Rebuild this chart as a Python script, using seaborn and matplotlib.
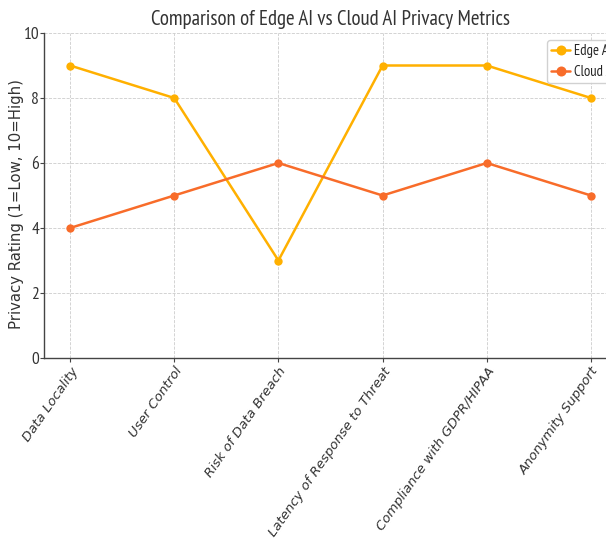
import matplotlib
matplotlib.use("Agg")
import matplotlib.pyplot as plt
import seaborn as sns
import pandas as pd

categories = ["Data Locality", "User Control", "Risk of Data Breach",
              "Latency of Response to Threat", "Compliance with GDPR/HIPAA",
              "Anonymity Support"]
edge_ai = [9, 8, 3, 9, 9, 8]
cloud_ai = [4, 5, 6, 5, 6, 5]
series_names = ["Edge AI", "Cloud AI"]
y_ticks = [0, 2, 4, 6, 8, 10]

sns.set_theme(style="whitegrid")
plt.rcParams["font.family"] = ["DejaVu Sans"]

df = pd.DataFrame({
    "Metric": categories * 2,
    "Rating": edge_ai + cloud_ai,
    "System": [series_names[0]] * len(categories) + [series_names[1]] * len(categories),
})

fig = plt.figure(figsize=(6.06, 5.41), dpi=100)
ax = fig.add_axes([44 / 606, 1 - 358 / 541, 573 / 606, 325 / 541])

palette = {"Edge AI": "#FFB000", "Cloud AI": "#F86C2A"}
sns.lineplot(data=df, x="Metric", y="Rating", hue="System", palette=palette,
             marker="o", markersize=6, markeredgewidth=0, linewidth=1.8,
             sort=False, ax=ax)

ax.set_xlim(-0.25, 5.25)
ax.set_ylim(0, 10)
ax.set_yticks(y_ticks)
ax.set_yticklabels([str(v) for v in y_ticks], family=["PT Sans Narrow", "DejaVu Sans"],
                   fontsize=12.5, color="#333333")
ax.set_xticks(range(len(categories)))
ax.set_xticklabels(categories, rotation=55, ha="right", rotation_mode="anchor",
                   fontsize=9.5, family=["DejaVu Sans"], style="oblique", color="#333333")
ax.tick_params(axis="y", which="both", length=3, width=0.8, color="#444444", left=True, pad=0.5)
ax.tick_params(axis="x", which="both", length=3, width=0.8, color="#444444", bottom=True, pad=2)

ax.grid(True, linestyle="--", linewidth=0.6, color="#cccccc")
ax.set_facecolor("white")
for s in ["top", "right"]:
    ax.spines[s].set_visible(False)
for s in ["left", "bottom"]:
    ax.spines[s].set_visible(True)
    ax.spines[s].set_color("#444444")
    ax.spines[s].set_linewidth(1.0)

ax.set_xlabel("")
ax.set_ylabel("Privacy Rating (1=Low, 10=High)", fontsize=10.7, color="#333333",
              family=["DejaVu Sans"])
ax.yaxis.label.set_verticalalignment("center")
ax.yaxis.set_label_coords((17 - 44) / 573, 0.475)
ax.set_title("Comparison of Edge AI vs Cloud AI Privacy Metrics",
             family=["PT Sans Narrow", "DejaVu Sans"], fontsize=15, color="#333333", pad=6)

leg = ax.legend(title=None, loc="upper left", bbox_to_anchor=((547 - 44) / 573, 1 - (40 - 33) / 325),
                borderaxespad=0, prop={"family": ["PT Sans Narrow", "DejaVu Sans"], "size": 10.5},
                frameon=True, handlelength=1.3, handletextpad=0.25, borderpad=0.3,
                labelspacing=0.45, markerscale=1.2)
leg.get_frame().set_edgecolor("#cccccc")
leg.get_frame().set_alpha(0.9)

fig.savefig("out.png", dpi=100)
